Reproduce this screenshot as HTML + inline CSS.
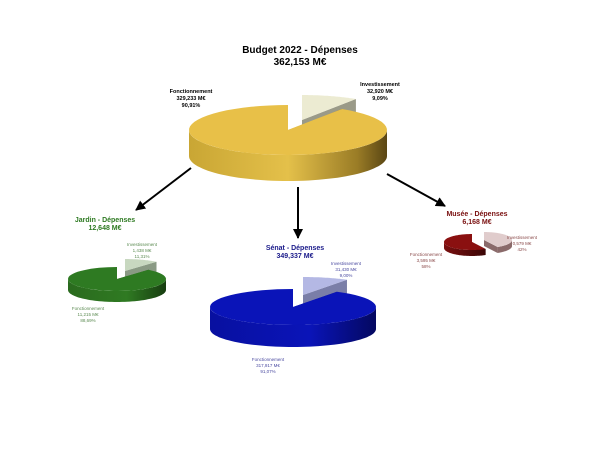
<!DOCTYPE html>
<html><head><meta charset="utf-8"><style>
html,body{margin:0;padding:0;background:#fff;width:600px;height:450px;overflow:hidden}
svg{display:block}
text{font-family:"Liberation Sans",sans-serif}
</style></head><body>
<svg id="s" width="600" height="450" viewBox="0 0 600 450" xmlns="http://www.w3.org/2000/svg">
<defs>
<linearGradient id="gy" x1="0" x2="1"><stop offset="0" stop-color="#c9a634"/><stop offset="0.5" stop-color="#e4c04a"/><stop offset="0.85" stop-color="#9a7c26"/><stop offset="1" stop-color="#5a4614"/></linearGradient>
<linearGradient id="gg" x1="0" x2="1"><stop offset="0" stop-color="#2a6a1e"/><stop offset="0.6" stop-color="#2f7a22"/><stop offset="1" stop-color="#173d10"/></linearGradient>
<linearGradient id="gb" x1="0" x2="1"><stop offset="0" stop-color="#0810a0"/><stop offset="0.6" stop-color="#0a14b8"/><stop offset="1" stop-color="#040860"/></linearGradient>
<linearGradient id="gr" x1="0" x2="1"><stop offset="0" stop-color="#7a1010"/><stop offset="1" stop-color="#3a0606"/></linearGradient>
<marker id="ar" viewBox="0 0 10 10" refX="9" refY="5" markerWidth="5" markerHeight="5" orient="auto"><path d="M0,0L10,5L0,10z" fill="#000"/></marker>
</defs>
<g id="pies"></g>
<line x1="191" y1="168" x2="136" y2="210" stroke="#000" stroke-width="2" marker-end="url(#ar)"/>
<line x1="298" y1="187" x2="298" y2="238" stroke="#000" stroke-width="2" marker-end="url(#ar)"/>
<line x1="387" y1="174" x2="445" y2="206" stroke="#000" stroke-width="2" marker-end="url(#ar)"/>

<text x="300" y="53" font-size="10" font-weight="bold" text-anchor="middle">Budget 2022 - Dépenses</text>
<text x="300" y="65" font-size="10" font-weight="bold" text-anchor="middle">362,153 M€</text>
<g font-size="5.5" font-weight="bold" text-anchor="middle">
<text x="191" y="93">Fonctionnement</text><text x="191" y="100">329,233 M€</text><text x="191" y="107">90,91%</text>
<text x="380" y="86">Investissement</text><text x="380" y="93">32,920 M€</text><text x="380" y="100">9,09%</text>
</g>
<g fill="#2e7a22" text-anchor="middle">
<text x="105" y="222" font-size="7" font-weight="bold">Jardin - Dépenses</text>
<text x="105" y="230" font-size="7" font-weight="bold">12,648 M€</text>
<g font-size="4.5" fill="#5a8a50"><text x="142" y="246">Investissement</text><text x="142" y="252">1,438 M€</text><text x="142" y="258">11,31%</text>
<text x="88" y="310">Fonctionnement</text><text x="88" y="316">11,215 M€</text><text x="88" y="322">88,69%</text></g>
</g>
<g fill="#1a1a8a" text-anchor="middle">
<text x="295" y="250" font-size="7" font-weight="bold">Sénat - Dépenses</text>
<text x="295" y="258" font-size="7" font-weight="bold">349,337 M€</text>
<g font-size="4.5" fill="#4a4aa0"><text x="346" y="265">Investissement</text><text x="346" y="271">31,430 M€</text><text x="346" y="277">9,00%</text>
<text x="268" y="361">Fonctionnement</text><text x="268" y="367">317,917 M€</text><text x="268" y="373">91,07%</text></g>
</g>
<g fill="#7a1010" text-anchor="middle">
<text x="477" y="216" font-size="7" font-weight="bold">Musée - Dépenses</text>
<text x="477" y="224" font-size="7" font-weight="bold">6,168 M€</text>
<g font-size="4.5" fill="#8a4a4a"><text x="522" y="239">Investissement</text><text x="522" y="245">0,579 M€</text><text x="522" y="251">42%</text>
<text x="426" y="256">Fonctionnement</text><text x="426" y="262">3,595 M€</text><text x="426" y="268">58%</text></g>
</g>
</svg>
<script>
(function(){
var g=document.getElementById('pies'),NS='http://www.w3.org/2000/svg';
function pt(c,t){var r=t*Math.PI/180;return [c.cx+c.rx*Math.cos(r),c.cy+c.ry*Math.sin(r)];}
function arc(c,a,b,dy){var p=[],n=60;for(var i=0;i<=n;i++){var q=pt(c,a+(b-a)*i/n);p.push(q[0].toFixed(1)+','+(q[1]+dy).toFixed(1));}return p;}
function add(d,f){var e=document.createElementNS(NS,'path');e.setAttribute('d',d);e.setAttribute('fill',f);g.appendChild(e);}
function slice(c,a,b,ox,oy,top,side){
 var cc={cx:c.cx+ox,cy:c.cy+oy,rx:c.rx,ry:c.ry};
 // cut walls
 [a,b].forEach(function(t){var q=pt(cc,t);add('M'+cc.cx+','+cc.cy+'L'+q[0]+','+q[1]+'L'+q[0]+','+(q[1]+c.d)+'L'+cc.cx+','+(cc.cy+c.d)+'Z',side);});
 // side: intersect [a,b] with front [0,180] (also +360)
 [[0,180],[360,540]].forEach(function(r){var s=Math.max(a,r[0]),e=Math.min(b,r[1]);if(e>s){var t=arc(cc,s,e,0),bt=arc(cc,e,s,c.d);add('M'+t.join('L')+'L'+bt.join('L')+'Z',side);}});
 var t=arc(cc,a,b,0);add('M'+cc.cx+','+cc.cy+'L'+t.join('L')+'Z',top);
}
var M={cx:288,cy:130,rx:99,ry:25,d:26};
slice(M,-90,-57,14,-10,'#ecebd2','#9a9a88');
slice(M,-57,270,0,0,'#e8c048','url(#gy)');
var J={cx:117,cy:279,rx:49,ry:12,d:11};
slice(J,-90,-50,8,-8,'#c8d8c0','#8a9a84');
slice(J,-50,270,0,0,'#2e7a22','url(#gg)');
var S={cx:293,cy:307,rx:83,ry:18,d:22};
slice(S,-90,-58,10,-12,'#b4b8e4','#7a7ea8');
slice(S,-58,270,0,0,'#0a14b8','url(#gb)');
var U={cx:478,cy:240,rx:28,ry:8,d:6};
slice(U,-90,61,6,0,'#e0cccc','#8a6a6a');
slice(U,61,270,-6,2,'#8a1010','url(#gr)');
})();
</script>
</body></html>
